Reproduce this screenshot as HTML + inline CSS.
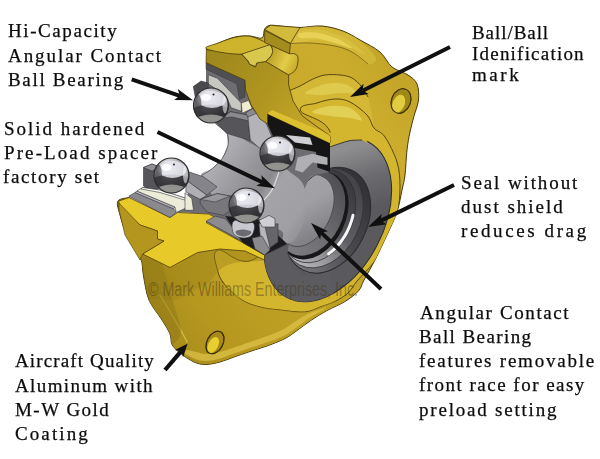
<!DOCTYPE html>
<html><head><meta charset="utf-8"><title>Bearing</title>
<style>
html,body{margin:0;padding:0;background:#fff;}
body{width:600px;height:459px;overflow:hidden;position:relative;font-family:"Liberation Serif",serif;}
svg{position:absolute;left:0;top:0;}
.t{position:absolute;white-space:nowrap;font-size:19px;color:#0c0c0c;-webkit-text-stroke:0.25px #0c0c0c;line-height:24px;will-change:transform;}
</style></head><body>
<svg width="600" height="459" viewBox="0 0 600 459">
<defs>
<linearGradient id="gBody" x1="135" y1="290" x2="420" y2="90" gradientUnits="userSpaceOnUse">
 <stop offset="0" stop-color="#987e18"/><stop offset="0.12" stop-color="#b2941e"/><stop offset="0.3" stop-color="#c4a426"/><stop offset="0.6" stop-color="#c8a82a"/><stop offset="0.85" stop-color="#cbac2c"/><stop offset="1" stop-color="#c2a428"/>
</linearGradient>
<linearGradient id="gOlive" x1="210" y1="55" x2="325" y2="135" gradientUnits="userSpaceOnUse">
 <stop offset="0" stop-color="#9e881c"/><stop offset="0.5" stop-color="#b09620"/><stop offset="1" stop-color="#ccae2c"/>
</linearGradient>
<linearGradient id="gSeal" x1="320" y1="140" x2="365" y2="185" gradientUnits="userSpaceOnUse">
 <stop offset="0" stop-color="#8e8e90"/><stop offset="0.5" stop-color="#6c6c70"/><stop offset="1" stop-color="#5a5a5e"/>
</linearGradient>
<radialGradient id="gBall" cx="0.42" cy="0.28" r="0.8">
 <stop offset="0" stop-color="#ffffff"/><stop offset="0.2" stop-color="#e4e4e8"/><stop offset="0.45" stop-color="#a4a4a8"/><stop offset="0.7" stop-color="#606064"/><stop offset="1" stop-color="#252527"/>
</radialGradient>
<linearGradient id="gBore" x1="228" y1="140" x2="336" y2="215" gradientUnits="userSpaceOnUse">
 <stop offset="0" stop-color="#b0b0b4"/><stop offset="0.25" stop-color="#98989c"/><stop offset="0.42" stop-color="#8a8a8e"/><stop offset="0.5" stop-color="#a4a4a8"/><stop offset="0.75" stop-color="#a0a0a4"/><stop offset="1" stop-color="#828286"/>
</linearGradient>
<linearGradient id="gHoleW" x1="355" y1="180" x2="315" y2="272" gradientUnits="userSpaceOnUse">
 <stop offset="0" stop-color="#343438"/><stop offset="0.5" stop-color="#4a4a4e"/><stop offset="1" stop-color="#77777b"/>
</linearGradient>
<linearGradient id="gRingC" x1="350" y1="180" x2="312" y2="268" gradientUnits="userSpaceOnUse">
 <stop offset="0" stop-color="#46464a"/><stop offset="0.45" stop-color="#606064"/><stop offset="0.75" stop-color="#9a9a9e"/><stop offset="1" stop-color="#b8b8bc"/>
</linearGradient>
<linearGradient id="gRingB" x1="345" y1="180" x2="310" y2="262" gradientUnits="userSpaceOnUse">
 <stop offset="0" stop-color="#3a3a3e"/><stop offset="0.45" stop-color="#58585c"/><stop offset="0.75" stop-color="#949498"/><stop offset="1" stop-color="#b0b0b4"/>
</linearGradient>
<linearGradient id="gRingA" x1="338" y1="180" x2="300" y2="255" gradientUnits="userSpaceOnUse">
 <stop offset="0" stop-color="#505054"/><stop offset="0.5" stop-color="#6c6c70"/><stop offset="1" stop-color="#7e7e82"/>
</linearGradient>
<linearGradient id="gGroove" x1="268" y1="55" x2="296" y2="68" gradientUnits="userSpaceOnUse">
 <stop offset="0" stop-color="#b89c22"/><stop offset="0.6" stop-color="#e2cc48"/><stop offset="1" stop-color="#c8ac2a"/>
</linearGradient>
<clipPath id="cHole"><ellipse cx="327.5" cy="220.2" rx="39.6" ry="55.5" transform="rotate(26 327.5 220.2)"/></clipPath>
<clipPath id="cSeal"><ellipse cx="327.7" cy="219.8" rx="55.6" ry="87.8" transform="rotate(27.6 327.7 219.8)"/></clipPath>
</defs>
<clipPath id="cBody"><path d="M206.0,49.0 C208.2,48.0 214.2,45.0 219.0,43.0 C223.8,41.0 229.8,38.2 235.0,37.0 C240.2,35.8 245.5,35.8 250.0,36.0 C254.5,36.2 259.6,39.2 262.0,38.0 C264.4,36.8 263.3,31.1 264.7,29.0 C266.1,26.9 267.1,25.7 270.5,25.3 C273.9,24.9 280.1,26.1 285.0,26.5 C289.9,26.9 293.8,27.6 300.0,27.5 C306.2,27.4 314.8,25.4 322.0,26.0 C329.2,26.6 336.7,28.7 343.0,31.0 C349.3,33.3 353.8,36.5 360.0,40.0 C366.2,43.5 374.7,47.5 380.0,52.0 C385.3,56.5 387.3,63.2 392.0,67.0 C396.7,70.8 403.8,72.2 408.0,75.0 C412.2,77.8 415.2,79.8 417.0,84.0 C418.8,88.2 419.0,94.7 418.5,100.0 C418.0,105.3 415.4,110.7 414.0,116.0 C412.6,121.3 411.2,126.3 410.0,132.0 C408.8,137.7 407.8,142.8 407.0,150.0 C406.2,157.2 405.8,168.3 405.0,175.0 C404.2,181.7 403.3,183.8 402.0,190.0 C400.7,196.2 399.5,204.5 397.0,212.0 C394.5,219.5 390.7,227.0 387.0,235.0 C383.3,243.0 378.8,252.5 375.0,260.0 C371.2,267.5 366.7,274.9 364.0,280.0 C361.3,285.1 361.8,287.1 358.7,290.7 C355.6,294.2 350.6,298.0 345.3,301.3 C340.0,304.6 332.5,307.5 326.7,310.7 C320.9,313.9 315.6,317.2 310.7,320.5 C305.8,323.8 301.1,327.6 297.0,330.5 C292.9,333.4 290.3,335.7 286.0,338.0 C281.7,340.3 277.0,342.2 271.0,344.5 C265.0,346.8 256.2,349.4 250.0,351.5 C243.8,353.6 239.0,355.2 234.0,357.0 C229.0,358.8 224.7,360.8 220.0,362.0 C215.3,363.2 210.3,364.5 206.0,364.5 C201.7,364.5 198.3,363.9 194.0,362.0 C189.7,360.1 183.7,355.9 180.0,353.0 C176.3,350.1 173.7,347.7 172.0,344.5 C170.3,341.3 171.7,338.1 170.0,334.0 C168.3,329.9 165.5,325.7 162.0,320.0 C158.5,314.3 152.1,307.3 149.0,300.0 C145.9,292.7 144.9,283.0 143.5,276.0 C142.1,269.0 143.2,264.5 140.5,258.0 C137.8,251.5 131.0,244.4 127.5,237.0 C124.0,229.6 121.2,219.5 119.6,213.5 C118.0,207.5 116.4,203.7 118.0,201.0 C119.6,198.3 127.2,198.1 129.0,197.5 L150,215 L200,235 L250,240 L270,200 L270,120 L255,80 L225,62Z"/></clipPath>
<path d="M206.0,49.0 C208.2,48.0 214.2,45.0 219.0,43.0 C223.8,41.0 229.8,38.2 235.0,37.0 C240.2,35.8 245.5,35.8 250.0,36.0 C254.5,36.2 259.6,39.2 262.0,38.0 C264.4,36.8 263.3,31.1 264.7,29.0 C266.1,26.9 267.1,25.7 270.5,25.3 C273.9,24.9 280.1,26.1 285.0,26.5 C289.9,26.9 293.8,27.6 300.0,27.5 C306.2,27.4 314.8,25.4 322.0,26.0 C329.2,26.6 336.7,28.7 343.0,31.0 C349.3,33.3 353.8,36.5 360.0,40.0 C366.2,43.5 374.7,47.5 380.0,52.0 C385.3,56.5 387.3,63.2 392.0,67.0 C396.7,70.8 403.8,72.2 408.0,75.0 C412.2,77.8 415.2,79.8 417.0,84.0 C418.8,88.2 419.0,94.7 418.5,100.0 C418.0,105.3 415.4,110.7 414.0,116.0 C412.6,121.3 411.2,126.3 410.0,132.0 C408.8,137.7 407.8,142.8 407.0,150.0 C406.2,157.2 405.8,168.3 405.0,175.0 C404.2,181.7 403.3,183.8 402.0,190.0 C400.7,196.2 399.5,204.5 397.0,212.0 C394.5,219.5 390.7,227.0 387.0,235.0 C383.3,243.0 378.8,252.5 375.0,260.0 C371.2,267.5 366.7,274.9 364.0,280.0 C361.3,285.1 361.8,287.1 358.7,290.7 C355.6,294.2 350.6,298.0 345.3,301.3 C340.0,304.6 332.5,307.5 326.7,310.7 C320.9,313.9 315.6,317.2 310.7,320.5 C305.8,323.8 301.1,327.6 297.0,330.5 C292.9,333.4 290.3,335.7 286.0,338.0 C281.7,340.3 277.0,342.2 271.0,344.5 C265.0,346.8 256.2,349.4 250.0,351.5 C243.8,353.6 239.0,355.2 234.0,357.0 C229.0,358.8 224.7,360.8 220.0,362.0 C215.3,363.2 210.3,364.5 206.0,364.5 C201.7,364.5 198.3,363.9 194.0,362.0 C189.7,360.1 183.7,355.9 180.0,353.0 C176.3,350.1 173.7,347.7 172.0,344.5 C170.3,341.3 171.7,338.1 170.0,334.0 C168.3,329.9 165.5,325.7 162.0,320.0 C158.5,314.3 152.1,307.3 149.0,300.0 C145.9,292.7 144.9,283.0 143.5,276.0 C142.1,269.0 143.2,264.5 140.5,258.0 C137.8,251.5 131.0,244.4 127.5,237.0 C124.0,229.6 121.2,219.5 119.6,213.5 C118.0,207.5 116.4,203.7 118.0,201.0 C119.6,198.3 127.2,198.1 129.0,197.5 L150,215 L200,235 L250,240 L270,200 L270,120 L255,80 L225,62Z" fill="url(#gBody)" stroke="#4a3c0c" stroke-width="1"/>
<g clip-path="url(#cBody)">
<path d="M295.0,32.0 C299.0,30.0 311.7,29.0 320.0,30.0 C328.3,31.0 337.5,34.0 345.0,38.0 C352.5,42.0 364.2,52.3 365.0,54.0 C365.8,55.7 357.5,50.3 350.0,48.0 C342.5,45.7 329.0,41.0 320.0,40.0 C311.0,39.0 300.2,43.3 296.0,42.0 C291.8,40.7 291.0,34.0 295.0,32.0Z" fill="#dcc648" opacity="0.7"/>
<path d="M289.5,43.7 C291.2,46.1 302.4,42.6 310.0,43.0 C317.6,43.4 328.0,44.5 335.0,46.0 C342.0,47.5 346.5,49.0 352.0,52.0 C357.5,55.0 364.0,63.0 368.0,64.0 C372.0,65.0 377.3,61.8 376.0,58.0 C374.7,54.2 365.5,45.3 360.0,41.0 C354.5,36.7 349.3,34.3 343.0,32.0 C336.7,29.7 329.2,27.6 322.0,27.0 C314.8,26.4 305.4,25.7 300.0,28.5 C294.6,31.3 287.8,41.3 289.5,43.7Z" fill="#d8c040" opacity="0.6"/>
<path d="M300.0,33.0 C303.0,32.2 311.7,32.0 318.0,33.0 C324.3,34.0 332.3,36.5 338.0,39.0 C343.7,41.5 352.0,47.2 352.0,48.0 C352.0,48.8 343.7,45.6 338.0,44.0 C332.3,42.4 324.3,39.5 318.0,38.5 C311.7,37.5 303.0,38.9 300.0,38.0 C297.0,37.1 297.0,33.8 300.0,33.0Z" fill="#ecd860" opacity="0.75"/>
<path d="M289.5,43.7 C292.9,43.6 302.4,42.6 310.0,43.0 C317.6,43.4 328.0,44.5 335.0,46.0 C342.0,47.5 346.5,49.0 352.0,52.0 C357.5,55.0 365.3,62.0 368.0,64.0" fill="none" stroke="#4a3c0c" stroke-width="0.8" opacity="0.7"/>
<path d="M289.5,90.5 C290.7,88.0 296.1,87.9 300.0,86.0 C303.9,84.1 308.8,80.8 313.0,79.0 C317.2,77.2 320.5,75.7 325.0,75.0 C329.5,74.3 335.5,74.5 340.0,75.0 C344.5,75.5 348.3,76.0 352.0,78.0 C355.7,80.0 359.3,83.8 362.0,87.0 C364.7,90.2 366.0,90.2 368.0,97.0 C370.0,103.8 374.2,125.0 374.0,128.0 C373.8,131.0 371.0,119.3 367.0,115.0 C363.0,110.7 357.0,104.5 350.0,102.0 C343.0,99.5 333.2,98.5 325.0,100.0 C316.8,101.5 305.8,110.5 300.5,110.7 C295.2,110.9 294.8,104.4 293.0,101.0 C291.2,97.6 288.3,93.0 289.5,90.5Z" fill="#d6bc38" opacity="0.8"/>
<path d="M300.5,110.7 C298.3,104.0 311.2,105.0 317.0,103.0 C322.8,101.0 329.5,99.2 335.0,99.0 C340.5,98.8 344.7,99.3 350.0,102.0 C355.3,104.7 363.0,110.7 367.0,115.0 C371.0,119.3 371.0,124.3 374.0,128.0 C377.0,131.7 381.2,131.3 385.0,137.0 C388.8,142.7 394.5,153.7 397.0,162.0 C399.5,170.3 400.0,178.2 400.0,187.0 C400.0,195.8 399.0,206.5 397.0,215.0 C395.0,223.5 391.8,230.2 388.0,238.0 C384.2,245.8 379.2,254.8 374.0,262.0 C368.8,269.2 361.3,275.8 357.0,281.0 C352.7,286.2 351.7,289.6 348.0,293.0 C344.3,296.4 339.5,299.2 335.0,301.5 C330.5,303.8 326.0,304.9 321.0,306.7 C316.0,308.4 311.8,311.4 305.0,312.0 C298.2,312.6 287.5,310.8 280.0,310.0 C272.5,309.2 266.3,308.7 260.0,307.0 C253.7,305.3 247.8,303.7 242.0,300.0 C236.2,296.3 229.1,290.0 225.0,285.0 C220.9,280.0 218.7,275.8 217.5,270.0 C216.3,264.2 210.9,252.5 218.0,250.0 C225.1,247.5 241.3,272.8 260.0,255.0 C278.7,237.2 323.2,167.1 330.0,143.0 C336.8,119.0 302.7,117.4 300.5,110.7Z" fill="#d4b62e" stroke="#4a3c0c" stroke-width="0.9"/>
<path d="M289.5,90.5 C291.2,89.8 296.1,87.9 300.0,86.0 C303.9,84.1 308.8,80.8 313.0,79.0 C317.2,77.2 320.5,75.7 325.0,75.0 C329.5,74.3 335.5,74.5 340.0,75.0 C344.5,75.5 348.3,76.0 352.0,78.0 C355.7,80.0 359.3,83.8 362.0,87.0 C364.7,90.2 367.0,95.3 368.0,97.0" fill="none" stroke="#4a3c0c" stroke-width="0.9"/>
<path d="M312.0,112.0 C312.0,110.3 323.7,106.7 330.0,106.0 C336.3,105.3 344.7,105.7 350.0,108.0 C355.3,110.3 362.0,118.3 362.0,120.0 C362.0,121.7 355.3,118.7 350.0,118.0 C344.7,117.3 336.3,117.0 330.0,116.0 C323.7,115.0 312.0,113.7 312.0,112.0Z" fill="#e8dc68" opacity="0.7"/>
<path d="M305.0,93.0 C305.5,91.2 318.3,85.5 325.0,84.0 C331.7,82.5 339.8,82.5 345.0,84.0 C350.2,85.5 356.8,91.5 356.0,93.0 C355.2,94.5 345.7,92.7 340.0,93.0 C334.3,93.3 327.8,95.0 322.0,95.0 C316.2,95.0 304.5,94.8 305.0,93.0Z" fill="#e6d860" opacity="0.55"/>
<path d="M149.0,300.0 C146.8,303.3 158.5,314.3 162.0,320.0 C165.5,325.7 168.3,329.9 170.0,334.0 C171.7,338.1 170.3,341.3 172.0,344.5 C173.7,347.7 176.3,350.1 180.0,353.0 C183.7,355.9 189.7,360.1 194.0,362.0 C198.3,363.9 201.7,364.5 206.0,364.5 C210.3,364.5 215.3,363.2 220.0,362.0 C224.7,360.8 229.0,358.8 234.0,357.0 C239.0,355.2 243.8,353.6 250.0,351.5 C256.2,349.4 265.0,346.8 271.0,344.5 C277.0,342.2 281.7,340.3 286.0,338.0 C290.3,335.7 292.9,333.4 297.0,330.5 C301.1,327.6 305.8,323.8 310.7,320.5 C315.6,317.2 320.9,313.9 326.7,310.7 C332.5,307.5 343.9,302.8 345.3,301.3 C346.7,299.8 339.1,300.6 335.0,301.5 C330.9,302.4 326.0,304.9 321.0,306.7 C316.0,308.4 311.8,311.4 305.0,312.0 C298.2,312.6 287.5,310.8 280.0,310.0 C272.5,309.2 266.3,308.7 260.0,307.0 C253.7,305.3 247.8,303.7 242.0,300.0 C236.2,296.3 232.0,286.7 225.0,285.0 C218.0,283.3 208.3,287.5 200.0,290.0 C191.7,292.5 183.5,298.3 175.0,300.0 C166.5,301.7 151.2,296.7 149.0,300.0Z" fill="#b89a20" opacity="0.55"/>
<path d="M160.0,295.0 C162.5,299.2 170.4,312.1 175.0,320.0 C179.6,327.9 185.4,338.8 187.5,342.5" fill="none" stroke="#e0c850" stroke-width="1.5" opacity="0.7"/>
<path d="M140.5,258.0 C137.8,260.3 142.1,269.0 143.5,276.0 C144.9,283.0 145.9,292.7 149.0,300.0 C152.1,307.3 158.5,314.3 162.0,320.0 C165.5,325.7 168.3,329.9 170.0,334.0 C171.7,338.1 170.2,344.8 172.0,344.5 C173.8,344.2 180.8,339.1 181.0,332.0 C181.2,324.9 175.5,311.2 173.0,302.0 C170.5,292.8 168.2,283.7 166.0,277.0 C163.8,270.3 164.2,265.2 160.0,262.0 C155.8,258.8 143.2,255.7 140.5,258.0Z" fill="#8f7816" opacity="0.55"/>
<path d="M180.0,350.0 C180.0,351.2 189.7,356.7 194.0,358.5 C198.3,360.3 201.7,361.0 206.0,361.0 C210.3,361.0 215.3,359.8 220.0,358.5 C224.7,357.2 229.0,355.2 234.0,353.5 C239.0,351.8 243.8,350.1 250.0,348.0 C256.2,345.9 265.0,343.2 271.0,341.0 C277.0,338.8 281.7,336.8 286.0,334.5 C290.3,332.2 292.9,329.9 297.0,327.0 C301.1,324.1 305.8,320.2 310.7,317.0 C315.6,313.8 326.8,308.2 326.7,307.5 C326.6,306.8 315.1,310.8 310.0,313.0 C304.9,315.2 300.3,318.3 296.0,321.0 C291.7,323.7 288.3,326.7 284.0,329.0 C279.7,331.3 275.7,332.8 270.0,335.0 C264.3,337.2 256.0,339.9 250.0,342.0 C244.0,344.1 239.0,345.8 234.0,347.5 C229.0,349.2 224.7,350.9 220.0,352.0 C215.3,353.1 210.3,354.1 206.0,354.0 C201.7,353.9 198.3,352.2 194.0,351.5 C189.7,350.8 180.0,348.8 180.0,350.0Z" fill="#dcc248" opacity="0.75"/>
</g>
<ellipse cx="401" cy="101" rx="9.5" ry="12.5" transform="rotate(22 401 101)" fill="#bca022" stroke="#3a300a" stroke-width="1"/>
<ellipse cx="401" cy="101" rx="9.5" ry="12.5" transform="rotate(22 401 101)" fill="#a08818"/>
<ellipse cx="398.6" cy="103.8" rx="6" ry="9.5" transform="rotate(22 398.6 103.8)" fill="#e2cc40"/>
<ellipse cx="401" cy="101" rx="9.5" ry="12.5" transform="rotate(22 401 101)" fill="none" stroke="#3a300a" stroke-width="1"/>
<ellipse cx="215" cy="342.5" rx="8" ry="12" transform="rotate(28 215 342.5)" fill="#a88a18" stroke="#3a300a" stroke-width="1"/>
<ellipse cx="213.2" cy="345" rx="5" ry="8.5" transform="rotate(28 213.2 345)" fill="#e8cf30"/>
<ellipse cx="215" cy="342.5" rx="8" ry="12" transform="rotate(28 215 342.5)" fill="none" stroke="#3a300a" stroke-width="1"/>
<ellipse cx="327.7" cy="219.8" rx="55.6" ry="87.8" transform="rotate(27.6 327.7 219.8)" fill="url(#gSeal)" stroke="#2c2c2e" stroke-width="1"/>
<ellipse cx="327.5" cy="220.2" rx="39.6" ry="55.5" transform="rotate(26 327.5 220.2)" fill="url(#gHoleW)" stroke="#2a2a2c" stroke-width="1"/>
<g clip-path="url(#cHole)">
<ellipse cx="322.7" cy="218.2" rx="37.4" ry="52.2" transform="rotate(26 322.7 218.2)" fill="url(#gRingC)" stroke="#303034" stroke-width="0.7"/>
<ellipse cx="318" cy="216.2" rx="34.7" ry="49" transform="rotate(26 318 216.2)" fill="url(#gRingB)" stroke="#303034" stroke-width="0.7"/>
<path d="M353.0,215.3 C352.8,216.2 352.1,219.0 351.5,220.9 C350.9,222.8 350.2,224.7 349.5,226.5 C348.8,228.3 347.9,230.2 347.0,232.0 C346.1,233.8 345.2,235.4 344.1,237.1 C343.1,238.8 341.9,240.4 340.7,242.0 C339.5,243.6 338.2,245.0 336.9,246.4 C335.6,247.8 334.3,249.2 332.9,250.4 C331.5,251.6 329.3,253.2 328.6,253.8" fill="none" stroke="#ffffff" stroke-width="3" opacity="0.95" stroke-linecap="round"/>
<ellipse cx="313.4" cy="215.6" rx="32" ry="46.2" transform="rotate(26 313.4 215.6)" fill="#18181a"/>
<ellipse cx="311.4" cy="213.5" rx="30.8" ry="44.5" transform="rotate(26 311.4 213.5)" fill="url(#gRingA)"/>
<ellipse cx="306.7" cy="210.9" rx="24.3" ry="37.8" transform="rotate(26 306.7 210.9)" fill="url(#gBore)"/>
<path d="M321.3,176.1 C322.1,176.5 324.5,177.4 325.9,178.5 C327.3,179.6 328.5,180.9 329.6,182.4 C330.7,183.9 331.6,185.6 332.3,187.5 C333.0,189.4 333.5,191.5 333.8,193.7 C334.1,195.9 334.2,198.3 334.1,200.7 C334.0,203.1 333.6,205.6 333.1,208.1 C332.6,210.6 331.9,213.2 331.0,215.7 C330.1,218.2 329.0,220.7 327.8,223.0 C326.6,225.3 325.1,227.7 323.6,229.8 C322.1,231.9 320.4,234.0 318.7,235.8 C317.0,237.6 315.1,239.2 313.2,240.6 C311.3,242.0 309.3,243.2 307.4,244.1 C305.5,245.0 303.5,245.7 301.6,246.1 C299.7,246.5 297.9,246.6 296.1,246.5 C294.3,246.4 292.6,246.0 291.0,245.3 C289.4,244.6 287.3,243.0 286.6,242.5" fill="none" stroke="#48484c" stroke-width="0.9"/>
</g>
<path d="M328.0,133.0 L329.5,147.0 L340.0,143.5 L350.0,140.6 L362.0,140.0 L368.0,143.0 L360.0,128.0Z" fill="#d4b62e"/>
<path d="M329.5,147.0 C331.2,146.4 336.6,144.6 340.0,143.5 C343.4,142.4 346.3,141.2 350.0,140.6 C353.7,140.0 360.0,140.1 362.0,140.0" fill="none" stroke="#2c2c2e" stroke-width="0.9"/>
<path d="M206.0,62.0 L245.0,80.0 L262.0,115.0 L297.0,127.0 L329.0,135.0 L330.0,146.0 L330.0,172.0 L310.0,176.0 L300.0,200.0 L287.0,244.0 L264.5,255.0 L242.0,242.0 L206.0,222.0 L215.0,217.0 L209.0,214.0 L177.0,212.0 L190.0,190.0 L201.0,176.0 L212.0,168.8 L222.0,158.7 L228.0,145.3 L227.0,133.5 L215.3,123.5 L225.0,110.0 L206.0,85.0Z" fill="#6e6e72"/>
<path d="M215.3,123.5 C215.1,124.4 224.9,129.9 227.0,133.5 C229.1,137.1 228.8,141.1 228.0,145.3 C227.2,149.5 224.7,154.8 222.0,158.7 C219.3,162.6 215.5,165.9 212.0,168.8 C208.5,171.7 200.5,171.1 201.0,176.0 C201.5,180.9 207.5,190.3 215.0,198.0 C222.5,205.7 235.2,216.7 246.0,222.0 C256.8,227.3 273.8,227.0 280.0,230.0 C286.2,233.0 281.5,237.8 283.0,240.0 C284.5,242.2 286.5,243.8 289.0,243.0 C291.5,242.2 295.2,240.2 298.0,235.0 C300.8,229.8 304.8,219.5 306.0,212.0 C307.2,204.5 306.0,195.3 305.0,190.0 C304.0,184.7 302.5,183.0 300.0,180.0 C297.5,177.0 296.3,177.0 290.0,172.0 C283.7,167.0 269.5,155.3 262.0,150.0 C254.5,144.7 250.7,143.7 245.0,140.0 C239.3,136.3 232.9,130.8 228.0,128.0 C223.1,125.2 215.5,122.6 215.3,123.5Z" fill="url(#gBore)"/>
<path d="M279.0,172.0 C277.8,175.0 274.8,185.0 272.0,190.0 C269.2,195.0 263.7,200.0 262.0,202.0" fill="none" stroke="#dcdcdc" stroke-width="1.2"/>
<path d="M215.3,123.5 C217.2,125.2 224.9,129.9 227.0,133.5 C229.1,137.1 228.8,141.1 228.0,145.3 C227.2,149.5 224.7,154.8 222.0,158.7 C219.3,162.6 215.5,165.9 212.0,168.8 C208.5,171.7 202.8,174.8 201.0,176.0" fill="none" stroke="#6a6a6e" stroke-width="1"/>
<path d="M267.5,113.8 L330.0,143.0 L330.0,172.0 L317.5,167.5 L316.0,152.0 L300.0,149.0 L290.0,147.0 L275.0,141.0 L267.5,124.0Z" fill="#151515"/>
<path d="M286.0,135.0 L310.0,137.5 L312.5,145.0 L295.0,142.5Z" fill="#d0d0d4"/>
<path d="M297.5,157.5 L312.5,153.8 L327.5,157.5 L327.5,165.0 L312.5,162.5 L302.5,172.5 L295.0,170.0Z" fill="#b0b0b4"/>
<g stroke="#38383c" stroke-width="0.6" stroke-linejoin="round">
<path d="M206.1,62.7 L206.1,69.2 L236.8,83.8 L239.5,99.4 L245.0,96.7 L245.0,80.2Z" fill="#505054"/>
<path d="M208.3,74.7 L217.5,78.3 L241.3,103.1 L241.3,111.3 L231.2,107.7 L225.8,95.8 L208.3,83.8Z" fill="#c8c8c2"/>
<path d="M241.3,103.1 L248.7,100.3 L252.3,108.6 L242.2,113.2Z" fill="#f0ecd0"/>
<path d="M193.3,86.6 L201.0,81.0 L208.3,83.0 L208.3,90.0 L195.5,98.0Z" fill="#4a4a4e"/>
<path d="M216.0,122.5 L230.4,111.7 L247.7,115.0 L250.3,141.0 L245.5,139.0 L227.0,133.5Z" fill="#56565a"/>
<path d="M222.0,118.0 L230.4,111.7 L247.7,115.0 L249.0,121.0 L232.0,117.0Z" fill="#8a8a8e"/>
<path d="M245.5,113.0 L252.3,108.6 L263.7,117.3 L274.3,142.7 L261.0,149.3 L250.3,140.0 L247.7,115.0Z" fill="#b4b4b8"/>
<path d="M245.5,113.0 L252.3,108.6 L257.0,113.0 L248.0,117.0Z" fill="#8c8c90"/>
</g>
<path d="M206.4,49.5 L241.8,54.3 L248.2,61.6 L249.5,64.2 L255.5,67.0 L256.8,62.9 L265.7,61.2 L288.6,74.9 L288.6,85.0 L293.0,101.0 L302.0,115.7 L317.0,126.7 L330.0,135.8 L330.0,143.0 L267.5,113.8 L267.5,124.0 L260.0,119.0 L251.0,104.7 L245.5,90.0 L245.0,80.2 L206.1,62.7Z" fill="url(#gOlive)" stroke="#4a3c0c" stroke-width="0.8"/>
<path d="M267.5,113.8 L272.0,110.0 L300.0,122.0 L322.0,131.0 L330.0,135.8 L330.0,143.0Z" fill="#dcc030"/>
<path d="M206.4,48.8 C202.6,46.9 214.0,44.7 218.8,42.8 C223.6,40.9 230.1,38.4 235.3,37.3 C240.5,36.2 245.2,35.6 250.0,36.3 C254.8,37.0 260.4,40.1 263.8,41.5 C267.2,42.9 273.9,42.5 270.2,44.6 C266.5,46.7 252.4,53.4 241.8,54.1 C231.2,54.8 210.2,50.7 206.4,48.8Z" fill="#ceb42c" stroke="#4a3c0c" stroke-width="0.8"/>
<path d="M241.8,54.1 L270.2,44.6 L274.0,52.0 L268.3,59.3 L265.6,61.5 L256.8,62.9 L255.5,66.6 L249.5,64.2 L248.2,61.1Z" fill="#d8c84e" stroke="#4a3c0c" stroke-width="0.8"/>
<path d="M270.2,44.6 Q276,52 268.3,59.3 L265.6,61.5 L288.5,74.8 Q296,72 297.2,66 Q299,58 297.2,55.2 Q294,52.5 290.3,53.8 Z" fill="url(#gGroove)" stroke="#4a3c0c" stroke-width="0.8"/>
<path d="M264.7,30.5 L290.4,43.8 L289.5,53.8 L264.7,42.5Z" fill="#a48c1e" stroke="#4a3c0c" stroke-width="0.8"/>
<path d="M264.7,29.5 L270.5,25.3 L300.0,27.5 L290.4,43.3Z" fill="#d2ba3a" stroke="#4a3c0c" stroke-width="0.8"/>
<path d="M142.5,254.0 C146.5,253.9 160.8,267.8 170.0,267.5 C179.2,267.2 189.2,255.6 197.5,252.5 C205.8,249.4 212.1,249.2 220.0,249.0 C227.9,248.8 237.6,249.2 245.0,251.0 C252.4,252.8 265.3,258.2 264.5,260.0 C263.7,261.8 247.1,260.7 240.0,262.0 C232.9,263.3 227.8,264.2 222.0,268.0 C216.2,271.8 212.0,281.0 205.0,285.0 C198.0,289.0 187.8,292.0 180.0,292.0 C172.2,292.0 163.7,289.0 158.0,285.0 C152.3,281.0 148.6,273.2 146.0,268.0 C143.4,262.8 138.5,254.1 142.5,254.0Z" fill="#9c8218" opacity="0.45"/>
<path d="M264.5,255.0 C268.6,251.0 283.6,244.0 287.4,244.0 C291.2,244.0 286.0,250.7 287.4,255.0 C288.8,259.3 291.9,266.0 295.7,269.7 C299.5,273.4 304.3,276.3 310.0,277.0 C315.7,277.7 326.7,269.3 330.0,274.0 C333.3,278.7 335.0,299.7 330.0,305.0 C325.0,310.3 308.7,307.2 300.0,306.0 C291.3,304.8 283.7,302.0 278.0,298.0 C272.3,294.0 268.5,287.0 266.0,282.0 C263.5,277.0 263.2,272.5 263.0,268.0 C262.8,263.5 260.4,259.0 264.5,255.0Z" fill="#5c5c60" clip-path="url(#cSeal)"/>
<path d="M118.8,201.0 L129.0,197.5 L170.0,217.5 L177.5,212.5 L209.0,214.0 L215.0,217.5 L206.0,222.5 L242.5,242.5 L264.5,255.0 L264.5,260.0 L245.0,251.0 L220.0,249.0 L197.5,252.5 L170.0,267.5 L142.5,254.0 L164.0,241.0 L157.5,239.0 L157.5,231.0 L140.0,225.0 L119.0,207.5Z" fill="#e8c92a" stroke="#4a3c0c" stroke-width="0.8"/>
<path d="M119.0,203.0 L119.0,210.0 L125.0,235.0 L140.0,260.0 L142.5,254.0 L164.0,241.0 L157.5,239.0 L157.5,231.0 L140.0,225.0Z" fill="#b4961e" stroke="#4a3c0c" stroke-width="0.6"/>
<g stroke="#38383c" stroke-width="0.6" stroke-linejoin="round">
<path d="M128.8,196.2 L135.0,192.5 L173.8,208.8 L176.2,212.5 L170.0,217.5Z" fill="#8a8a8e"/>
<path d="M135.0,192.5 L173.8,208.8 L175.0,207.0 L137.0,191.0Z" fill="#b8b8bc"/>
<path d="M143.5,167.5 L152.0,164.0 L160.0,167.0 L160.0,188.0 L150.0,192.0 L143.5,186.0Z" fill="#55555a"/>
<path d="M143.5,167.5 L152.0,164.0 L160.0,167.0 L152.0,171.0Z" fill="#909094"/>
<path d="M137.0,191.0 L142.5,187.5 L160.0,190.0 L187.5,198.8 L190.0,206.2 L176.2,212.5 L175.0,207.0Z" fill="#ecebd8"/>
<path d="M142.5,187.5 L160.0,190.0 L187.5,198.8 L188.0,201.0 L160.0,192.5 L141.0,189.0Z" fill="#fafaf4"/>
<path d="M188.4,171.7 L203.5,176.8 L217.0,186.8 L206.9,195.2 L188.4,181.8Z" fill="#84848a"/>
<path d="M185.9,185.2 L188.4,181.8 L206.9,195.2 L200.2,199.4 L185.9,191.9Z" fill="#b0b0b4"/>
<path d="M200.2,199.4 L217.0,193.6 L230.4,196.0 L230.4,210.3 L223.7,215.4 L206.9,212.0 L200.2,203.6Z" fill="#77777c"/>
<path d="M200.2,199.4 L217.0,193.6 L230.4,196.0 L215.0,202.0Z" fill="#98989c"/>
<path d="M185.0,192.7 L191.8,198.6 L193.5,210.3 L185.0,210.3Z" fill="#ecebd8"/>
<path d="M206.0,221.2 L215.3,216.2 L225.3,218.7 L233.7,228.8 L243.4,236.0 L240.7,240.3Z" fill="#8c8c90"/>
<path d="M225.3,216.0 L262.0,220.0 L287.0,244.0 L264.5,255.0 L242.5,242.5 L233.7,228.8Z" fill="#1c1c1e"/>
<path d="M259.0,223.8 L270.0,220.0 L270.0,249.5 L260.8,242.0Z" fill="#b8b8bc"/>
<path d="M264.5,224.8 L278.0,223.8 L278.0,242.0 L270.0,247.7Z" fill="#66666a"/>
<path d="M252.0,238.0 L262.0,236.0 L270.0,250.0 L264.5,255.0 L255.0,249.0Z" fill="#8a8a8e"/>
<path d="M258.9,220.4 L269.0,215.4 L275.0,218.7 L275.0,227.0 L262.2,227.0Z" fill="#d0d0d4"/>
<path d="M232.9,222.0 C234.5,219.6 239.5,219.2 243.0,219.5 C246.5,219.8 252.4,221.2 253.9,223.8 C255.4,226.4 253.8,232.6 252.0,235.0 C250.2,237.4 246.1,238.2 243.0,238.0 C239.9,237.8 235.4,236.5 233.7,233.8 C232.0,231.1 231.3,224.4 232.9,222.0Z" fill="#c8c8d0"/>
<path d="M236.0,231.0 C237.0,230.2 240.5,229.4 243.0,229.5 C245.5,229.6 250.0,230.6 251.0,231.5 C252.0,232.4 250.3,234.2 249.0,235.0 C247.7,235.8 245.0,236.6 243.0,236.5 C241.0,236.4 238.2,235.4 237.0,234.5 C235.8,233.6 235.0,231.8 236.0,231.0Z" fill="#6a6a70" stroke="none"/>
</g>
<clipPath id="cb1"><circle cx="211" cy="105.5" r="17.5"/></clipPath>
<circle cx="211" cy="105.5" r="17.5" fill="url(#gBall)"/>
<g clip-path="url(#cb1)">
<ellipse cx="211" cy="111.0" rx="19.5" ry="6.5" fill="#26262a" opacity="0.78"/>
<ellipse cx="211" cy="120.5" rx="14.5" ry="6" fill="#9a9a96" opacity="0.9"/>
<ellipse cx="212" cy="99.5" rx="14.0" ry="8.5" fill="#e4e4ec" opacity="0.85"/>
<ellipse cx="206" cy="97.5" rx="5" ry="3.5" fill="#ffffff" opacity="0.9"/>
<ellipse cx="198" cy="105.5" rx="3.5" ry="11" fill="#3a3a3e" opacity="0.6"/>
<ellipse cx="225" cy="104.5" rx="2.5" ry="9" fill="#f0f0f4" opacity="0.6"/>
</g>
<circle cx="213.5" cy="94.5" r="1" fill="#222"/>
<circle cx="211" cy="105.5" r="17.5" fill="none" stroke="#2c2c2e" stroke-width="1.2"/>
<clipPath id="cb2"><circle cx="277.5" cy="153.5" r="17.5"/></clipPath>
<circle cx="277.5" cy="153.5" r="17.5" fill="url(#gBall)"/>
<g clip-path="url(#cb2)">
<ellipse cx="277.5" cy="159.0" rx="19.5" ry="6.5" fill="#26262a" opacity="0.78"/>
<ellipse cx="277.5" cy="168.5" rx="14.5" ry="6" fill="#9a9a96" opacity="0.9"/>
<ellipse cx="278.5" cy="147.5" rx="14.0" ry="8.5" fill="#e4e4ec" opacity="0.85"/>
<ellipse cx="272.5" cy="145.5" rx="5" ry="3.5" fill="#ffffff" opacity="0.9"/>
<ellipse cx="264.5" cy="153.5" rx="3.5" ry="11" fill="#3a3a3e" opacity="0.6"/>
<ellipse cx="291.5" cy="152.5" rx="2.5" ry="9" fill="#f0f0f4" opacity="0.6"/>
</g>
<circle cx="280.0" cy="142.5" r="1" fill="#222"/>
<circle cx="277.5" cy="153.5" r="17.5" fill="none" stroke="#2c2c2e" stroke-width="1.2"/>
<clipPath id="cb3"><circle cx="171.5" cy="175.5" r="17.5"/></clipPath>
<circle cx="171.5" cy="175.5" r="17.5" fill="url(#gBall)"/>
<g clip-path="url(#cb3)">
<ellipse cx="171.5" cy="181.0" rx="19.5" ry="6.5" fill="#26262a" opacity="0.78"/>
<ellipse cx="171.5" cy="190.5" rx="14.5" ry="6" fill="#9a9a96" opacity="0.9"/>
<ellipse cx="172.5" cy="169.5" rx="14.0" ry="8.5" fill="#e4e4ec" opacity="0.85"/>
<ellipse cx="166.5" cy="167.5" rx="5" ry="3.5" fill="#ffffff" opacity="0.9"/>
<ellipse cx="158.5" cy="175.5" rx="3.5" ry="11" fill="#3a3a3e" opacity="0.6"/>
<ellipse cx="185.5" cy="174.5" rx="2.5" ry="9" fill="#f0f0f4" opacity="0.6"/>
</g>
<circle cx="174.0" cy="164.5" r="1" fill="#222"/>
<circle cx="171.5" cy="175.5" r="17.5" fill="none" stroke="#2c2c2e" stroke-width="1.2"/>
<clipPath id="cb4"><circle cx="246.5" cy="205.5" r="17.5"/></clipPath>
<circle cx="246.5" cy="205.5" r="17.5" fill="url(#gBall)"/>
<g clip-path="url(#cb4)">
<ellipse cx="246.5" cy="211.0" rx="19.5" ry="6.5" fill="#26262a" opacity="0.78"/>
<ellipse cx="246.5" cy="220.5" rx="14.5" ry="6" fill="#9a9a96" opacity="0.9"/>
<ellipse cx="247.5" cy="199.5" rx="14.0" ry="8.5" fill="#e4e4ec" opacity="0.85"/>
<ellipse cx="241.5" cy="197.5" rx="5" ry="3.5" fill="#ffffff" opacity="0.9"/>
<ellipse cx="233.5" cy="205.5" rx="3.5" ry="11" fill="#3a3a3e" opacity="0.6"/>
<ellipse cx="260.5" cy="204.5" rx="2.5" ry="9" fill="#f0f0f4" opacity="0.6"/>
</g>
<circle cx="249.0" cy="194.5" r="1" fill="#222"/>
<circle cx="246.5" cy="205.5" r="17.5" fill="none" stroke="#2c2c2e" stroke-width="1.2"/>
<line x1="131.7" y1="79.3" x2="179.8" y2="95.8" stroke="#101010" stroke-width="4"/>
<path d="M193.0,100.3 L174.1,99.9 L179.8,95.8 L177.8,89.0Z" fill="#101010"/>
<line x1="157.5" y1="132" x2="262.4" y2="182.3" stroke="#101010" stroke-width="4"/>
<path d="M275.0,188.3 L256.3,185.7 L262.4,182.3 L261.3,175.3Z" fill="#101010"/>
<line x1="450" y1="47" x2="362.5" y2="90.7" stroke="#101010" stroke-width="4"/>
<path d="M350.0,97.0 L363.5,83.8 L362.5,90.7 L368.7,94.1Z" fill="#101010"/>
<line x1="454" y1="185" x2="380.6" y2="220.9" stroke="#101010" stroke-width="4"/>
<path d="M368.0,227.0 L381.7,213.9 L380.6,220.9 L386.7,224.3Z" fill="#101010"/>
<line x1="381" y1="289" x2="321.2" y2="232.6" stroke="#101010" stroke-width="4"/>
<path d="M311.0,223.0 L328.0,231.2 L321.2,232.6 L320.2,239.5Z" fill="#101010"/>
<line x1="165" y1="370" x2="181.0" y2="351.3" stroke="#101010" stroke-width="4.2"/>
<path d="M187.5,343.8 L183.2,357.2 L181.0,351.3 L174.9,350.0Z" fill="#101010"/>
<text x="148" y="296" font-family="Liberation Sans, sans-serif" font-size="19.5" fill="#3a3216" fill-opacity="0.42" textLength="210" lengthAdjust="spacingAndGlyphs">© Mark Williams Enterprises, Inc.</text>
</svg>
<div class="t" style="left:8.2px;top:19.4px;letter-spacing:1.58px">Hi-Capacity</div>
<div class="t" style="left:8.2px;top:43.8px;letter-spacing:1.93px">Angular Contact</div>
<div class="t" style="left:8.2px;top:68.0px;letter-spacing:1.69px">Ball Bearing</div>
<div class="t" style="left:3.9px;top:117.0px;letter-spacing:1.99px">Solid hardened</div>
<div class="t" style="left:3.9px;top:141.3px;letter-spacing:2.10px">Pre-Load spacer</div>
<div class="t" style="left:3.2px;top:165.3px;letter-spacing:1.64px">factory set</div>
<div class="t" style="left:14.5px;top:349.3px;letter-spacing:1.13px">Aircraft Quality</div>
<div class="t" style="left:14.5px;top:373.7px;letter-spacing:1.39px">Aluminum with</div>
<div class="t" style="left:14.5px;top:397.7px;letter-spacing:1.46px">M-W Gold</div>
<div class="t" style="left:14.5px;top:422.0px;letter-spacing:2.10px">Coating</div>
<div class="t" style="left:472.2px;top:20.7px;letter-spacing:0.94px">Ball/Ball</div>
<div class="t" style="left:472.2px;top:42.0px;letter-spacing:1.21px">Idenification</div>
<div class="t" style="left:472.2px;top:62.8px;letter-spacing:2.58px">mark</div>
<div class="t" style="left:460.5px;top:170.8px;letter-spacing:1.89px">Seal without</div>
<div class="t" style="left:460.5px;top:194.8px;letter-spacing:2.00px">dust shield</div>
<div class="t" style="left:460.5px;top:218.8px;letter-spacing:2.60px">reduces drag</div>
<div class="t" style="left:419.9px;top:301.3px;letter-spacing:1.61px">Angular Contact</div>
<div class="t" style="left:419.2px;top:325.3px;letter-spacing:1.41px">Ball Bearing</div>
<div class="t" style="left:418.5px;top:349.3px;letter-spacing:1.77px">features removable</div>
<div class="t" style="left:419.2px;top:373.0px;letter-spacing:1.48px">front race for easy</div>
<div class="t" style="left:418.5px;top:398.0px;letter-spacing:1.79px">preload setting</div>
</body></html>
